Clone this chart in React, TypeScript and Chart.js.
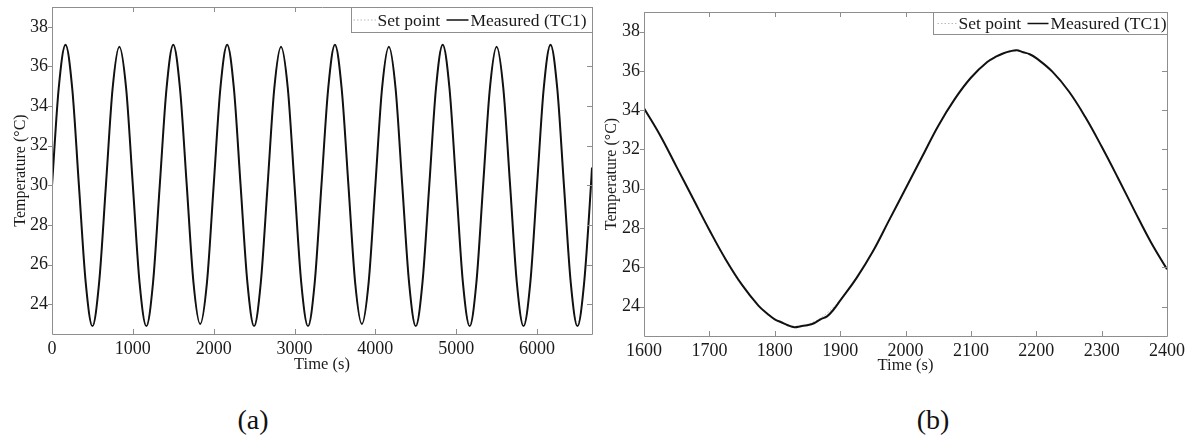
import React, { useEffect, useRef } from "react";
import { Chart, registerables } from "chart.js";

Chart.register(...registerables);

// ---------- data ----------
const seriesLabels = ["Set point", "Measured (TC1)"];
const xTitle = "Time (s)";
const yTitle = "Temperature (\u00B0C)";
const yTicks = [24, 26, 28, 30, 32, 34, 36, 38];
const xTicksA = [0, 1000, 2000, 3000, 4000, 5000, 6000];
const xTicksB = [1600, 1700, 1800, 1900, 2000, 2100, 2200, 2300, 2400];

// panel (a): 0 .. 6680 s
const timeA = [
  0, 83, 167, 250, 333, 417, 500, 583, 667, 750, 833, 917, 1000, 1083, 1167, 1250,
  1333, 1417, 1500, 1583, 1667, 1750, 1833, 1917, 2000, 2083, 2167, 2250, 2333, 2417,
  2500, 2583, 2667, 2750, 2833, 2917, 3000, 3083, 3167, 3250, 3333, 3417, 3500, 3583,
  3667, 3750, 3833, 3917, 4000, 4083, 4167, 4250, 4333, 4417, 4500, 4583, 4667, 4750,
  4833, 4917, 5000, 5083, 5167, 5250, 5333, 5417, 5500, 5583, 5667, 5750, 5833, 5917,
  6000, 6083, 6167, 6250, 6333, 6417, 6500, 6583, 6667, 6680,
];
const measuredA = [
  30.0, 34.9, 37.1, 34.9, 30.0, 25.1, 22.9, 25.1,
  30.0, 34.9, 37.0, 34.9, 30.0, 25.1, 22.9, 25.1,
  30.0, 34.9, 37.1, 34.9, 30.0, 25.1, 23.0, 25.1,
  30.0, 34.9, 37.1, 34.9, 30.0, 25.1, 22.9, 25.1,
  30.0, 34.9, 37.0, 34.9, 30.0, 25.1, 22.9, 25.1,
  30.0, 34.9, 37.1, 34.9, 30.0, 25.1, 23.0, 25.1,
  30.0, 34.9, 37.0, 34.9, 30.0, 25.1, 22.9, 25.1,
  30.0, 34.9, 37.1, 34.9, 30.0, 25.1, 22.9, 25.1,
  30.0, 34.9, 37.0, 34.9, 30.0, 25.1, 22.9, 25.1,
  30.0, 34.9, 37.1, 34.9, 30.0, 25.1, 22.9, 25.1,
  30.0, 30.9,
];
const setPointA = [
  30.0, 34.95, 37.0, 34.95, 30.0, 25.05, 23.0, 25.05,
  30.0, 34.95, 37.0, 34.95, 30.0, 25.05, 23.0, 25.05,
  30.0, 34.95, 37.0, 34.95, 30.0, 25.05, 23.0, 25.05,
  30.0, 34.95, 37.0, 34.95, 30.0, 25.05, 23.0, 25.05,
  30.0, 34.95, 37.0, 34.95, 30.0, 25.05, 23.0, 25.05,
  30.0, 34.95, 37.0, 34.95, 30.0, 25.05, 23.0, 25.05,
  30.0, 34.95, 37.0, 34.95, 30.0, 25.05, 23.0, 25.05,
  30.0, 34.95, 37.0, 34.95, 30.0, 25.05, 23.0, 25.05,
  30.0, 34.95, 37.0, 34.95, 30.0, 25.05, 23.0, 25.05,
  30.0, 34.95, 37.0, 34.95, 30.0, 25.05, 23.0, 25.05,
  30.0, 30.86,
];

// panel (b): 1600 .. 2400 s (measured trace has small sensor wiggles)
const timeB = [
  1600, 1625, 1650, 1675, 1700, 1725, 1750, 1775, 1790, 1800, 1810, 1820, 1830, 1840,
  1850, 1860, 1870, 1880, 1890, 1900, 1925, 1950, 1975, 2000, 2025, 2050, 2075, 2100,
  2125, 2140, 2150, 2160, 2170, 2180, 2190, 2200, 2225, 2250, 2275, 2300, 2325, 2350,
  2375, 2400,
];
const measuredB = [
  34.1, 32.7, 31.1, 29.5, 27.9, 26.4, 25.1, 24.05, 23.6, 23.35, 23.2, 23.05, 22.95, 23.0,
  23.05, 23.15, 23.35, 23.5, 23.85, 24.3, 25.45, 26.8, 28.4, 30.0, 31.6, 33.2, 34.55, 35.65,
  36.45, 36.75, 36.9, 37.0, 37.05, 36.95, 36.85, 36.65, 35.95, 34.95, 33.65, 32.15, 30.55, 28.9,
  27.3, 25.9,
];
const setPointB = [
  34.11, 32.68, 31.09, 29.45, 27.84, 26.34, 25.05, 24.03, 23.58, 23.34, 23.17, 23.05, 23.0, 23.01,
  23.09, 23.22, 23.41, 23.67, 23.97, 24.34, 25.45, 26.82, 28.37, 30.0, 31.63, 33.18, 34.55, 35.66,
  36.47, 36.78, 36.91, 36.99, 37.0, 36.95, 36.83, 36.66, 35.97, 34.95, 33.66, 32.16, 30.55, 28.91,
  27.32, 25.89,
];

// ---------- styling ----------
const SERIF = "'Liberation Serif', 'Times New Roman', serif";
const FRAME = "#8e8e8e";
const TEXT = "#1a1a1a";

const framePlugin = {
  id: "frame",
  afterDraw(chart: any, _args: any, opts: any) {
    const { ctx, chartArea } = chart;
    const { left, right, top, bottom } = chartArea;
    const xs = chart.scales.x;
    const ys = chart.scales.y;
    ctx.save();
    ctx.strokeStyle = FRAME;
    ctx.lineWidth = 1;
    ctx.beginPath();
    ctx.rect(Math.round(left) + 0.5, Math.round(top) + 0.5, Math.round(right - left), Math.round(bottom - top));
    ctx.stroke();
    ctx.beginPath();
    xs.ticks.forEach((t: any) => {
      const px = Math.round(xs.getPixelForValue(t.value)) + 0.5;
      ctx.moveTo(px, bottom);
      ctx.lineTo(px, bottom - 5);
      ctx.moveTo(px, top);
      ctx.lineTo(px, top + 5);
    });
    ys.ticks.forEach((t: any) => {
      const py = Math.round(ys.getPixelForValue(t.value)) + 0.5;
      ctx.moveTo(left, py);
      ctx.lineTo(left - 4, py);
      ctx.moveTo(right, py);
      ctx.lineTo(right - 5, py);
    });
    ctx.stroke();

    // legend box
    const lg = opts.legend;
    if (lg) {
      const ds = chart.data.datasets;
      const bx = Math.round(right - lg.width) + 0.5;
      const by = Math.round(top) + 0.5;
      ctx.fillStyle = "#ffffff";
      ctx.fillRect(bx, by, lg.width, lg.height);
      ctx.strokeStyle = FRAME;
      ctx.strokeRect(bx, by, lg.width, lg.height);
      const my = by + lg.height / 2;
      ctx.save();
      ctx.strokeStyle = ds[0].borderColor;
      ctx.lineWidth = ds[0].borderWidth;
      ctx.setLineDash(ds[0].borderDash);
      ctx.beginPath();
      ctx.moveTo(bx + lg.s1[0], my);
      ctx.lineTo(bx + lg.s1[1], my);
      ctx.stroke();
      ctx.restore();
      ctx.strokeStyle = ds[1].borderColor;
      ctx.lineWidth = 1.5;
      ctx.beginPath();
      ctx.moveTo(bx + lg.s2[0], my);
      ctx.lineTo(bx + lg.s2[1], my);
      ctx.stroke();
      ctx.fillStyle = TEXT;
      ctx.font = `17.5px ${SERIF}`;
      ctx.textBaseline = "middle";
      ctx.textAlign = "left";
      ctx.fillText(ds[0].label, bx + lg.t1, my + 1);
      ctx.fillText(ds[1].label, bx + lg.t2, my + 1);
    }
    ctx.restore();
  },
};

function makeConfig(p: any): any {
  const pts = (ys: number[]) => p.time.map((t: number, i: number) => ({ x: t, y: ys[i] }));
  return {
    type: "line",
    data: {
      datasets: [
        {
          label: seriesLabels[0],
          data: pts(p.setp),
          borderColor: "#b8b8b8",
          borderWidth: 1,
          borderDash: [1.5, 2],
          pointRadius: 0,
          order: 1,
          cubicInterpolationMode: p.interp,
          tension: 0.4,
        },
        {
          label: seriesLabels[1],
          data: pts(p.meas),
          borderColor: "#111111",
          borderWidth: 2,
          pointRadius: 0,
          order: 0,
          cubicInterpolationMode: p.interp,
          tension: 0.4,
        },
      ],
    },
    options: {
      animation: false,
      responsive: false,
      devicePixelRatio: 1,
      layout: { padding: { top: p.padTop, right: p.padRight, left: 0, bottom: 0 } },
      plugins: {
        legend: { display: false },
        tooltip: { enabled: false },
        frame: { legend: p.legend },
      },
      scales: {
        x: {
          type: "linear",
          min: p.xMin,
          max: p.xMax,
          afterBuildTicks: (s: any) => {
            s.ticks = p.xTicks.map((v: number) => ({ value: v }));
          },
          afterFit: (s: any) => {
            s.height = p.xH;
            s.paddingLeft = 0;
            s.paddingRight = 0;
          },
          grid: { display: false, drawTicks: false },
          border: { display: false },
          ticks: {
            font: { family: SERIF, size: 18 },
            color: TEXT,
            padding: 4,
            maxRotation: 0,
            autoSkip: false,
            callback: (v: any) => String(v),
          },
          title: {
            display: true,
            text: xTitle,
            font: { family: SERIF, size: 16.5 },
            color: TEXT,
            padding: { top: 0, bottom: p.xTitlePad },
          },
        },
        y: {
          type: "linear",
          min: 22.5,
          max: 39,
          afterBuildTicks: (s: any) => {
            s.ticks = yTicks.map((v) => ({ value: v }));
          },
          afterFit: (s: any) => {
            s.width = p.yW;
            s.paddingTop = 0;
            s.paddingBottom = 0;
          },
          grid: { display: false, drawTicks: false },
          border: { display: false },
          ticks: {
            font: { family: SERIF, size: 18 },
            color: TEXT,
            padding: 4,
            autoSkip: false,
            callback: (v: any) => String(v),
          },
          title: {
            display: true,
            text: yTitle,
            font: { family: SERIF, size: 16 },
            color: TEXT,
            padding: { top: p.yTitlePad, bottom: 0 },
          },
        },
      },
    },
    plugins: [framePlugin],
  };
}

function Panel(props: { cfg: any; left: number; width: number; height: number }) {
  const ref = useRef<HTMLCanvasElement>(null);
  useEffect(() => {
    const chart = new Chart(ref.current as HTMLCanvasElement, makeConfig(props.cfg));
    return () => chart.destroy();
  }, []);
  return (
    <canvas
      ref={ref}
      width={props.width}
      height={props.height}
      style={{
        position: "absolute",
        left: props.left,
        top: 0,
        width: props.width,
        height: props.height,
      }}
    />
  );
}

const cfgA = {
  time: timeA,
  meas: measuredA,
  setp: setPointA,
  xTicks: xTicksA,
  xMin: 0,
  xMax: 6680,
  padTop: 7,
  padRight: 8,
  yW: 52,
  xH: 46,
  xTitlePad: 5.4,
  yTitlePad: 11.4,
  interp: "monotone",
  legend: { width: 241, height: 25, s1: [2, 25], t1: 26, s2: [95, 117], t2: 119 },
};

const cfgB = {
  time: timeB,
  meas: measuredB,
  setp: setPointB,
  xTicks: xTicksB,
  xMin: 1600,
  xMax: 2400,
  padTop: 12,
  padRight: 25,
  yW: 54,
  xH: 44,
  xTitlePad: 4.9,
  yTitlePad: 12.4,
  interp: "default",
  legend: { width: 234, height: 22, s1: [4, 24], t1: 25, s2: [94, 115], t2: 117 },
};

const labelStyle: React.CSSProperties = {
  position: "absolute",
  top: 404,
  width: 100,
  textAlign: "center",
  fontFamily: SERIF,
  fontSize: 28,
  lineHeight: "32px",
  color: "#111",
};

export default function App() {
  return (
    <div
      style={{
        position: "absolute",
        left: 0,
        top: 0,
        width: 1192,
        height: 443,
        background: "#ffffff",
        overflow: "hidden",
      }}
    >
      <Panel cfg={cfgA} left={0} width={600} height={380} />
      <Panel cfg={cfgB} left={590} width={602} height={380} />
      <div style={{ ...labelStyle, left: 203 }}>(a)</div>
      <div style={{ ...labelStyle, left: 883 }}>(b)</div>
    </div>
  );
}
